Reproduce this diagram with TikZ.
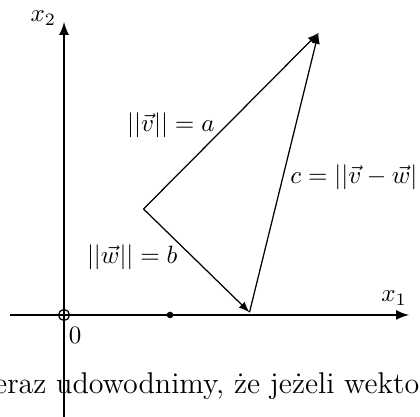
\documentclass[tikz,border=0pt]{standalone}
\usepackage{amsfonts,amsmath,amssymb}
\usepackage{tikz}
\usetikzlibrary{arrows}

\begin{document}
\begin{tikzpicture}[x=21.2pt, y=21.2pt, every label/.append style={font=\small}]
    \tikzstyle{axis}=[line width=0.8pt,-latex];
    \tikzstyle{vec}=[line width=0.5pt,-latex];
    \tikzstyle{pt}=[draw,shape=circle,inner sep=0pt,minimum size=2.2pt,fill=black];
    \tikzstyle{lab}=[inner sep=0pt];
    \useasboundingbox (-1.208,-1.925) rectangle (6.717,5.943);
    %axes
    \coordinate (xl) at (-1.02,0);
    \coordinate (xr) at (6.51,0);
    \coordinate (yb) at (0,-2);
    \coordinate (yt) at (0,5.53);
    \draw[axis] (xl) -- (xr);
    \draw[axis] (yb) -- (yt);
    \node (x1) at (6.23,0.32) {$x_1$};
    \node (x2) at (-0.39,5.60) {$x_2$};
    \node[draw,circle,inner sep=0pt,minimum size=4.4pt,line width=0.5pt] (O) at (0,0) {};
    \node (zero) at (0.21,-0.39) {$0$};
    \node[pt] (D) at (2,0) {};
    %triangle
    \coordinate (A) at (1.5,2);
    \coordinate (B) at (3.5,0.05);
    \coordinate (C) at (4.8,5.32);
    \draw[vec] (A) -- (C);
    \draw[vec] (A) -- (B);
    \draw[vec] (B) -- (C);
    \node[lab,anchor=east] (la) at (2.85,3.58) {$||\vec{v}|| = a$};
    \node[lab,anchor=east] (lb) at (2.15,1.09) {$||\vec{w}|| = b$};
    \node[lab,anchor=west] (lc) at (4.26,2.60) {$c = ||\vec{v}-\vec{w}||$};
    %text
    \node[lab,anchor=base west,font=\fontsize{12}{14}\selectfont] (txt) at (-1.68,-1.49) {Teraz udowodnimy, że jeżeli wektory};
\end{tikzpicture}
\end{document}
